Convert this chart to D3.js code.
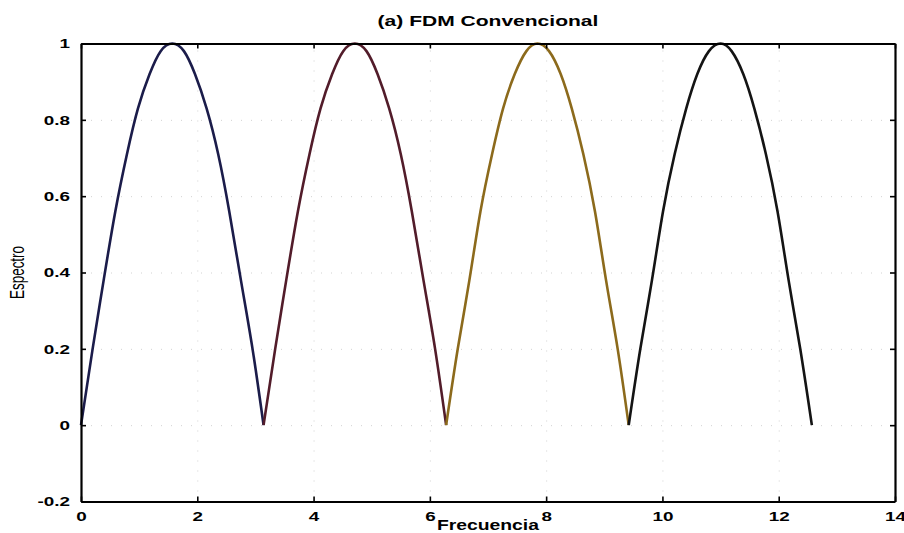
<!DOCTYPE html>
<html lang="es">
<head>
    <meta charset="UTF-8">
    <title>(a) FDM Convencional</title>
    <script src="https://d3js.org/d3.v7.min.js"></script>
    <style>
        body { margin: 0; background: #ffffff; }
        svg { display: block; }
        .tick text { font-family: "Liberation Sans", Arial, sans-serif; font-weight: bold; font-size: 13px; fill: #000; }
        .grid line { stroke: #d2d2d2; stroke-width: 1; stroke-dasharray: 1,9; }
        .grid .domain { display: none; }
    </style>
</head>
<body>
    <svg width="904" height="533"></svg>

    <script>
        // Datos: 4 subportadoras FDM
        const xTicks = [0, 2, 4, 6, 8, 10, 12, 14];
        const yTicks = [-0.2, 0, 0.2, 0.4, 0.6, 0.8, 1];
        const yTickLabels = ["-0.2", "0", "0.2", "0.4", "0.6", "0.8", "1"];

        const frec1 = [0, 0.20, 0.39, 0.59, 0.79, 0.98, 1.18, 1.37, 1.57, 1.77, 1.96, 2.16, 2.36, 2.55, 2.75, 2.95, 3.14];
        const frec2 = [3.14, 3.34, 3.53, 3.73, 3.93, 4.12, 4.32, 4.51, 4.71, 4.91, 5.10, 5.30, 5.50, 5.69, 5.89, 6.09, 6.28];
        const frec3 = [6.28, 6.48, 6.68, 6.87, 7.07, 7.26, 7.46, 7.66, 7.85, 8.05, 8.25, 8.44, 8.64, 8.84, 9.03, 9.23, 9.42];
        const frec4 = [9.42, 9.62, 9.82, 10.01, 10.21, 10.41, 10.60, 10.80, 11.00, 11.19, 11.39, 11.58, 11.78, 11.98, 12.17, 12.37, 12.57];

        const espectro1 = [0, 0.20, 0.38, 0.56, 0.71, 0.83, 0.92, 0.98, 1.00, 0.98, 0.92, 0.83, 0.71, 0.56, 0.38, 0.20, 0];
        const espectro2 = [0, 0.20, 0.38, 0.56, 0.71, 0.83, 0.92, 0.98, 1.00, 0.98, 0.92, 0.83, 0.71, 0.56, 0.38, 0.20, 0];
        const espectro3 = [0, 0.20, 0.38, 0.56, 0.71, 0.83, 0.92, 0.98, 1.00, 0.98, 0.92, 0.83, 0.71, 0.56, 0.38, 0.20, 0];
        const espectro4 = [0, 0.20, 0.38, 0.56, 0.71, 0.83, 0.92, 0.98, 1.00, 0.98, 0.92, 0.83, 0.71, 0.56, 0.38, 0.20, 0];

        const colores = ["#1b1c4a", "#521c2a", "#8c6a1c", "#141414"];

        const series = [
            { x: frec1, y: espectro1 },
            { x: frec2, y: espectro2 },
            { x: frec3, y: espectro3 },
            { x: frec4, y: espectro4 }
        ];

        const svg = d3.select("svg");
        const margenIzq = 81, margenDer = 895, margenSup = 43.5, margenInf = 501.5;
        const estirar = 1.45; // el texto del original aparece ensanchado

        const x = d3.scaleLinear().domain([0, 14]).range([margenIzq, margenDer]);
        const y = d3.scaleLinear().domain([-0.2, 1]).range([margenInf, margenSup]);

        // rejilla punteada
        svg.append("g").attr("class", "grid")
            .attr("transform", `translate(0,${margenInf})`)
            .call(d3.axisBottom(x).tickValues(xTicks.slice(1, -1)).tickSize(-(margenInf - margenSup)).tickFormat(""));
        svg.append("g").attr("class", "grid")
            .attr("transform", `translate(${margenIzq},0)`)
            .call(d3.axisLeft(y).tickValues(yTicks.slice(1, -1)).tickSize(-(margenDer - margenIzq)).tickFormat(""));

        // curvas
        const linea = d3.line()
            .x(d => x(d[0]))
            .y(d => y(d[1]))
            .curve(d3.curveNatural);

        series.forEach((s, i) => {
            svg.append("path")
                .datum(s.x.map((v, j) => [v, s.y[j]]))
                .attr("fill", "none")
                .attr("stroke", colores[i])
                .attr("stroke-width", 2.6)
                .attr("stroke-linejoin", "round")
                .attr("d", linea);
        });

        // ejes tipo caja con marcas hacia adentro
        const ejeX = svg.append("g")
            .attr("transform", `translate(0,${margenInf})`)
            .call(d3.axisBottom(x).tickValues(xTicks).tickSizeInner(-5).tickSizeOuter(0).tickPadding(11).tickFormat(d3.format("d")));
        const ejeY = svg.append("g")
            .attr("transform", `translate(${margenIzq},0)`)
            .call(d3.axisLeft(y).tickValues(yTicks).tickSizeInner(-5).tickSizeOuter(0).tickPadding(11).tickFormat((d, i) => yTickLabels[i]));
        svg.append("g")
            .attr("transform", `translate(0,${margenSup})`)
            .call(d3.axisTop(x).tickValues(xTicks).tickSizeInner(-5).tickSizeOuter(0).tickFormat(""));
        svg.append("g")
            .attr("transform", `translate(${margenDer},0)`)
            .call(d3.axisRight(y).tickValues(yTicks).tickSizeInner(-5).tickSizeOuter(0).tickFormat(""));

        svg.selectAll(".domain").filter(function() { return !this.parentNode.classList.contains("grid"); })
            .attr("stroke", "#000").attr("stroke-width", 2.2);
        svg.selectAll("g:not(.grid) > .tick line").attr("stroke", "#000").attr("stroke-width", 1.6);

        ejeX.selectAll(".tick text").attr("dy", "0.62em");

        // ensanchar textos de marcas
        svg.selectAll(".tick text").each(function() {
            const largo = this.getComputedTextLength();
            if (largo > 0) d3.select(this).attr("textLength", largo * estirar).attr("lengthAdjust", "spacingAndGlyphs");
        });

        // titulo
        const titulo = svg.append("text")
            .attr("x", (margenIzq + margenDer) / 2)
            .attr("y", 26)
            .attr("text-anchor", "middle")
            .style("font-family", "Liberation Sans, Arial, sans-serif")
            .style("font-weight", "bold")
            .style("font-size", "14.5px")
            .text("(a) FDM Convencional");
        titulo.attr("textLength", titulo.node().getComputedTextLength() * estirar).attr("lengthAdjust", "spacingAndGlyphs");

        // etiqueta eje x
        const etiquetaX = svg.append("text")
            .attr("x", (margenIzq + margenDer) / 2)
            .attr("y", 530)
            .attr("text-anchor", "middle")
            .style("font-family", "Liberation Sans, Arial, sans-serif")
            .style("font-weight", "bold")
            .style("font-size", "14px")
            .text("Frecuencia");
        etiquetaX.attr("textLength", etiquetaX.node().getComputedTextLength() * 1.38).attr("lengthAdjust", "spacingAndGlyphs");

        // etiqueta eje y
        svg.append("text")
            .attr("transform", `translate(24,${(margenSup + margenInf) / 2}) scale(1.45,1) rotate(-90)`)
            .attr("text-anchor", "middle")
            .style("font-family", "Liberation Sans, Arial, sans-serif")
            .style("font-size", "13.5px")
            .text("Espectro");
    </script>
</body>
</html>
